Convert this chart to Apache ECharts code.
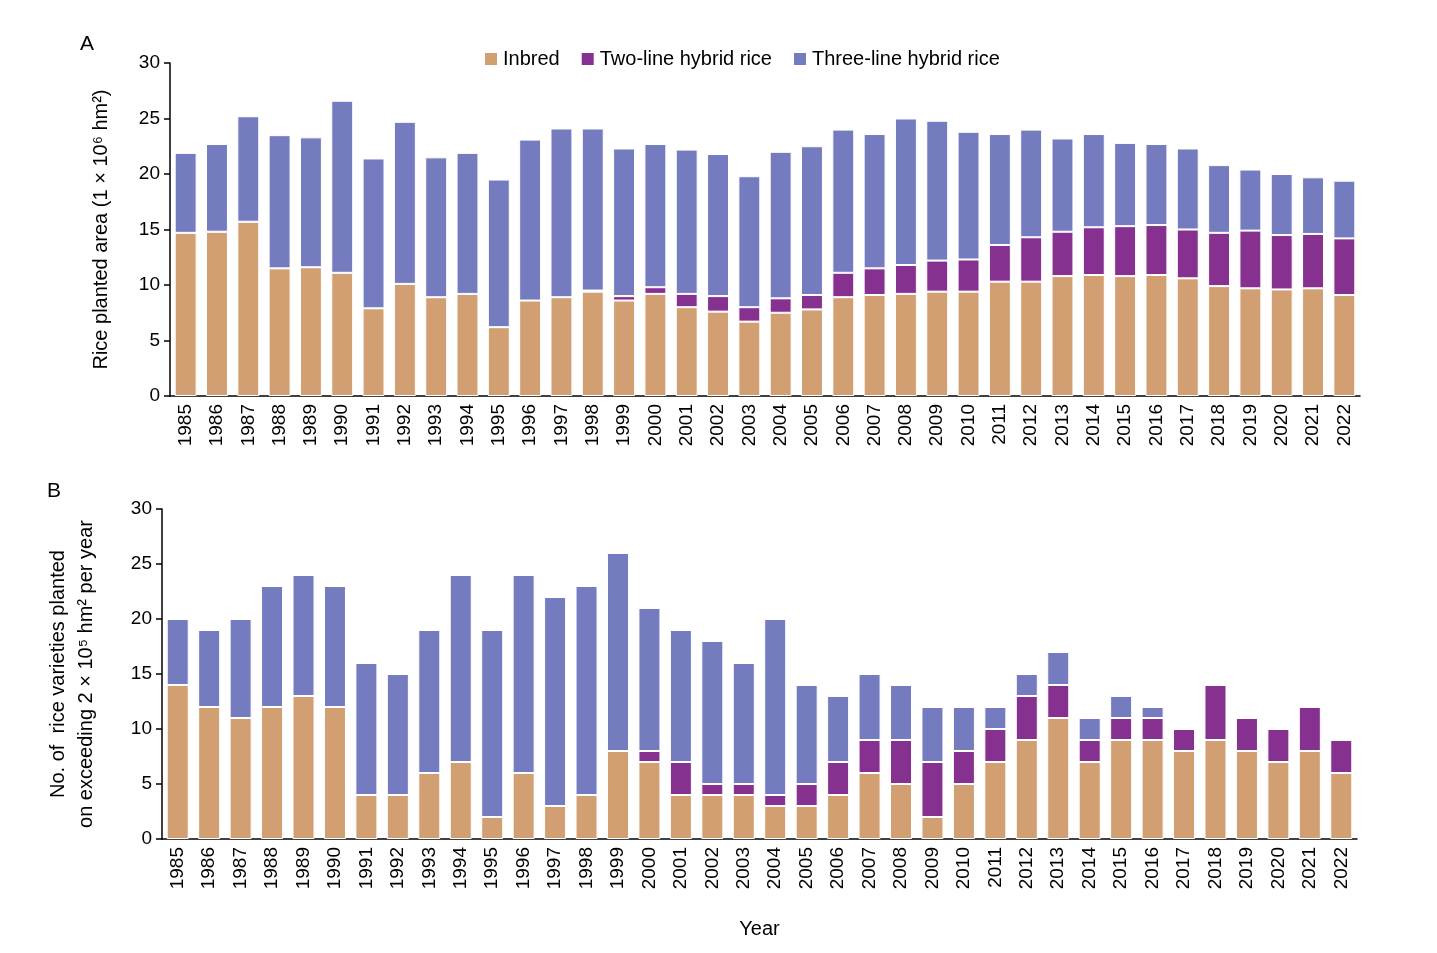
<!DOCTYPE html>
<html><head><meta charset="utf-8">
<script src="https://cdn.jsdelivr.net/npm/echarts@6/dist/echarts.min.js"></script>
<style>html,body{margin:0;background:#fff}#c{width:1437px;height:953px}</style>
</head><body><div id="c"></div>
<script>
const years = [];
for (let y = 1985; y <= 2022; y++) years.push(String(y));

// Panel A: inbred, inbred+two-line (cumulative), total (1e6 hm2)
const areaInbred = [14.7,14.8,15.7,11.5,11.6,11.1,7.9,10.1,8.9,9.2,6.2,8.6,8.9,9.4,8.6,9.2,8.0,7.6,6.7,7.5,7.8,8.9,9.1,9.2,9.4,9.4,10.3,10.3,10.8,10.9,10.8,10.9,10.6,9.9,9.7,9.6,9.7,9.1];
const areaCum = [14.7,14.8,15.7,11.5,11.6,11.1,7.9,10.1,8.9,9.2,6.2,8.6,8.9,9.5,9.0,9.8,9.2,9.0,8.0,8.8,9.1,11.1,11.5,11.8,12.2,12.3,13.6,14.3,14.8,15.2,15.3,15.4,15.0,14.7,14.9,14.5,14.6,14.2];
const areaTotal = [21.9,22.7,25.2,23.5,23.3,26.6,21.4,24.7,21.5,21.9,19.5,23.1,24.1,24.1,22.3,22.7,22.2,21.8,19.8,22.0,22.5,24.0,23.6,25.0,24.8,23.8,23.6,24.0,23.2,23.6,22.8,22.7,22.3,20.8,20.4,20.0,19.7,19.4];

// Panel B: number of varieties
const numInbred = [14,12,11,12,13,12,4,4,6,7,2,6,3,4,8,7,4,4,4,3,3,4,6,5,2,5,7,9,11,7,9,9,8,9,8,7,8,6];
const numTwo = [0,0,0,0,0,0,0,0,0,0,0,0,0,0,0,1,3,1,1,1,2,3,3,4,5,3,3,4,3,2,2,2,2,5,3,3,4,3];
const numThree = [6,7,9,11,11,11,12,11,13,17,17,18,19,19,18,13,12,13,11,16,9,6,6,5,5,4,2,2,3,2,2,1,0,0,0,0,0,0];

const areaTwo = areaCum.map((v, i) => +(v - areaInbred[i]).toFixed(2));
const areaThree = areaTotal.map((v, i) => +(v - areaCum[i]).toFixed(2));

const names = ['Inbred', 'Two-line hybrid rice', 'Three-line hybrid rice'];
const colors = ['#d19f71', '#86318f', '#747cbf'];
const font = 'Liberation Sans, Arial, sans-serif';

function xAxis(gi) {
  return {
    type: 'category', gridIndex: gi, data: years,
    axisLine: { lineStyle: { color: '#000', width: 1.5 } },
    axisTick: { show: false },
    axisLabel: { rotate: 90, color: '#000', fontSize: 19, fontFamily: font, margin: 8 },
    name: gi === 1 ? 'Year' : '', nameLocation: 'middle', nameGap: 80,
    nameTextStyle: { color: '#000', fontSize: 20, fontFamily: font }
  };
}
function yAxis(gi, name, gap) {
  return {
    type: 'value', gridIndex: gi, min: 0, max: 30, interval: 5,
    axisLine: { show: true, lineStyle: { color: '#000', width: 1.5 } },
    axisTick: { show: true, length: 6, lineStyle: { color: '#000', width: 1.5 } },
    splitLine: { show: false },
    axisLabel: { color: '#000', fontSize: 19, fontFamily: font, margin: 10 },
    name: name, nameLocation: 'middle', nameGap: gap, nameRotate: 90,
    nameTextStyle: { color: '#000', fontSize: 20, fontFamily: font, lineHeight: 28 }
  };
}
const series = [];
[[areaInbred, areaTwo, areaThree], [numInbred, numTwo, numThree]].forEach((set, gi) => {
  set.forEach((d, k) => {
    series.push({
      name: names[k], type: 'bar', stack: 's' + gi, xAxisIndex: gi, yAxisIndex: gi,
      data: d, barCategoryGap: '30%',
      itemStyle: { color: colors[k], borderColor: '#fff', borderWidth: 1 }
    });
  });
});

const chart = echarts.init(document.getElementById('c'));
chart.setOption({
  animation: false,
  textStyle: { fontFamily: font },
  legend: {
    data: names, top: 44, left: 478, itemWidth: 14, itemHeight: 14, itemGap: 20,
    icon: 'rect', textStyle: { color: '#000', fontSize: 20, fontFamily: font }
  },
  graphic: [
    { type: 'text', left: 80, top: 34, style: { text: 'A', fontSize: 21, fontFamily: font, fill: '#000' } },
    { type: 'text', left: 47, top: 481, style: { text: 'B', fontSize: 21, fontFamily: font, fill: '#000' } }
  ],
  grid: [
    { left: 170, right: 77, top: 63, height: 333 },
    { left: 162, right: 80, top: 509, height: 330 }
  ],
  xAxis: [xAxis(0), xAxis(1)],
  yAxis: [
    yAxis(0, 'Rice planted area (1 × 10⁶ hm²)', 55),
    yAxis(1, 'No. of  rice varieties planted\non exceeding 2 × 10⁵ hm² per year', 62)
  ],
  series: series
});
</script></body></html>
